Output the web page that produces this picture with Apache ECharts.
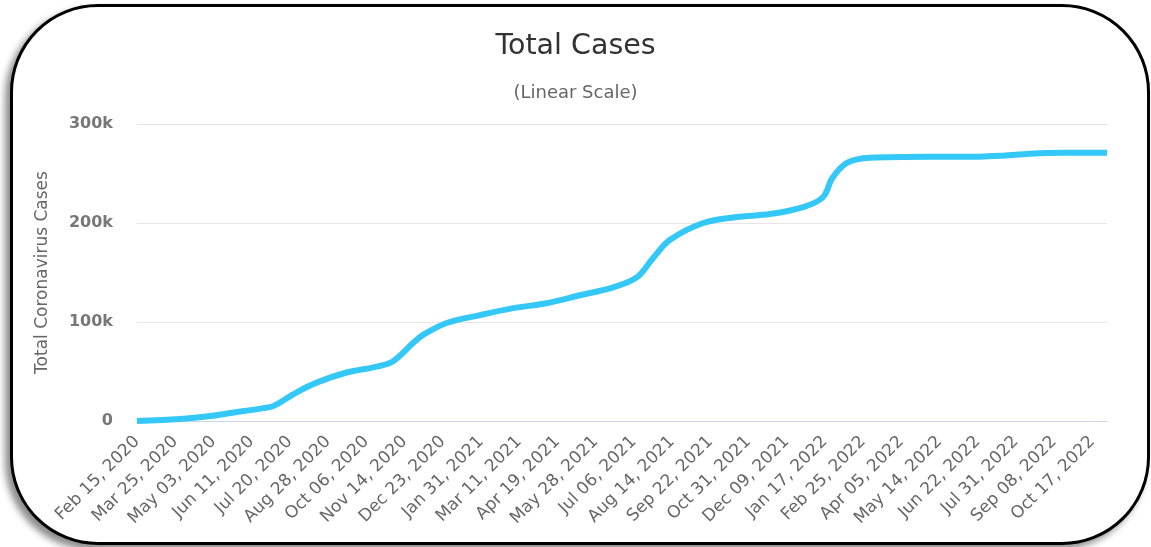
<!DOCTYPE html>
<html>
<head>
<meta charset="utf-8">
<script src="https://cdn.jsdelivr.net/npm/echarts@6/dist/echarts.min.js"></script>
<style>
    html, body { margin: 0; padding: 0; background: #fff; }
    .frame {
        position: absolute;
        left: 10px; top: 4px;
        width: 1134px; height: 535px;
        border: 3px solid #000;
        border-radius: 88px;
        box-shadow: -5px 5px 7px rgba(0,0,0,0.45);
        background: #fff;
    }
    .total_cases {
        position: absolute;
        left: 0; top: 0;
        width: 1151px; height: 547px;
    }
</style>
</head>
<body>
<div class="frame"></div>
<div class="total_cases"></div>

<script>
    // days since Feb 15, 2020 and total cases
    var sample_days = [0, 44, 75, 95, 129, 139, 163, 184, 214, 245, 261, 282, 292, 316, 350, 384, 418, 452, 486, 510, 527, 544, 578, 612, 646, 680, 700, 710, 725, 748, 809, 860, 884, 911, 945, 990];
    var total_cases = [0, 2000, 5000, 8000, 13000, 15000, 29000, 39000, 49000, 55000, 60000, 79000, 87000, 99000, 107000, 114000, 119000, 127000, 135000, 145000, 165000, 183000, 200000, 206000, 209000, 216000, 226000, 246000, 261000, 266000, 267000, 267000, 268000, 270000, 271000, 271000];

    // one label every 39 days
    var tick_labels = ['Feb 15, 2020', 'Mar 25, 2020', 'May 03, 2020', 'Jun 11, 2020', 'Jul 20, 2020', 'Aug 28, 2020',
        'Oct 06, 2020', 'Nov 14, 2020', 'Dec 23, 2020', 'Jan 31, 2021', 'Mar 11, 2021', 'Apr 19, 2021',
        'May 28, 2021', 'Jul 06, 2021', 'Aug 14, 2021', 'Sep 22, 2021', 'Oct 31, 2021', 'Dec 09, 2021',
        'Jan 17, 2022', 'Feb 25, 2022', 'Apr 05, 2022', 'May 14, 2022', 'Jun 22, 2022', 'Jul 31, 2022',
        'Sep 08, 2022', 'Oct 17, 2022'];
    var label_step = 39;
    var last_day = 990;

    var y_ticks = { min: 0, max: 300000, interval: 100000 };

    var font = '"DejaVu Sans", sans-serif';

    var series_data = [];
    sample_days.forEach(function(day, index) {
        series_data.push([day, total_cases[index]]);
    });

    var options = {
        animation: false,
        textStyle: { fontFamily: font },
        title: {
            text: 'Total Cases',
            subtext: '(Linear Scale)',
            left: 'center',
            top: 27,
            itemGap: 23,
            textStyle: { fontSize: 28.5, fontWeight: 'normal', color: '#333', fontFamily: font },
            subtextStyle: { fontSize: 18, color: '#666', fontFamily: font }
        },
        grid: {
            left: 137,
            right: 44,
            top: 124,
            bottom: 126
        },
        xAxis: {
            type: 'value',
            min: 0,
            max: last_day,
            interval: label_step,
            axisLine: { show: true, lineStyle: { color: '#ccd6eb', width: 1 } },
            axisTick: { show: false },
            splitLine: { show: false },
            axisLabel: {
                rotate: 45,
                margin: 18,
                fontSize: 17,
                color: '#666',
                fontFamily: font,
                showMaxLabel: true,
                formatter: function(value) {
                    if (value % label_step !== 0) return '';
                    return tick_labels[value / label_step] || '';
                }
            }
        },
        yAxis: {
            type: 'value',
            min: y_ticks.min,
            max: y_ticks.max,
            interval: y_ticks.interval,
            name: 'Total Coronavirus Cases',
            nameLocation: 'middle',
            nameGap: 86,
            nameTextStyle: { fontSize: 17, color: '#666', fontFamily: font },
            axisLine: { show: false },
            axisTick: { show: false },
            splitLine: { lineStyle: { color: '#e6e6e6', width: 1 } },
            axisLabel: {
                margin: 24,
                fontSize: 16,
                fontWeight: 'bold',
                color: '#777',
                fontFamily: font,
                formatter: function(value) {
                    return value === 0 ? '0' : (value / 1000) + 'k';
                }
            }
        },
        series: [{
            name: 'Cases',
            type: 'line',
            data: series_data,
            smooth: 0.35,
            showSymbol: false,
            lineStyle: { color: '#33c8f7', width: 6 },
            itemStyle: { color: '#33c8f7' }
        }]
    };

    var chart_container = document.getElementsByClassName('total_cases')[0];
    echarts.init(chart_container).setOption(options);
</script>
</body>
</html>
